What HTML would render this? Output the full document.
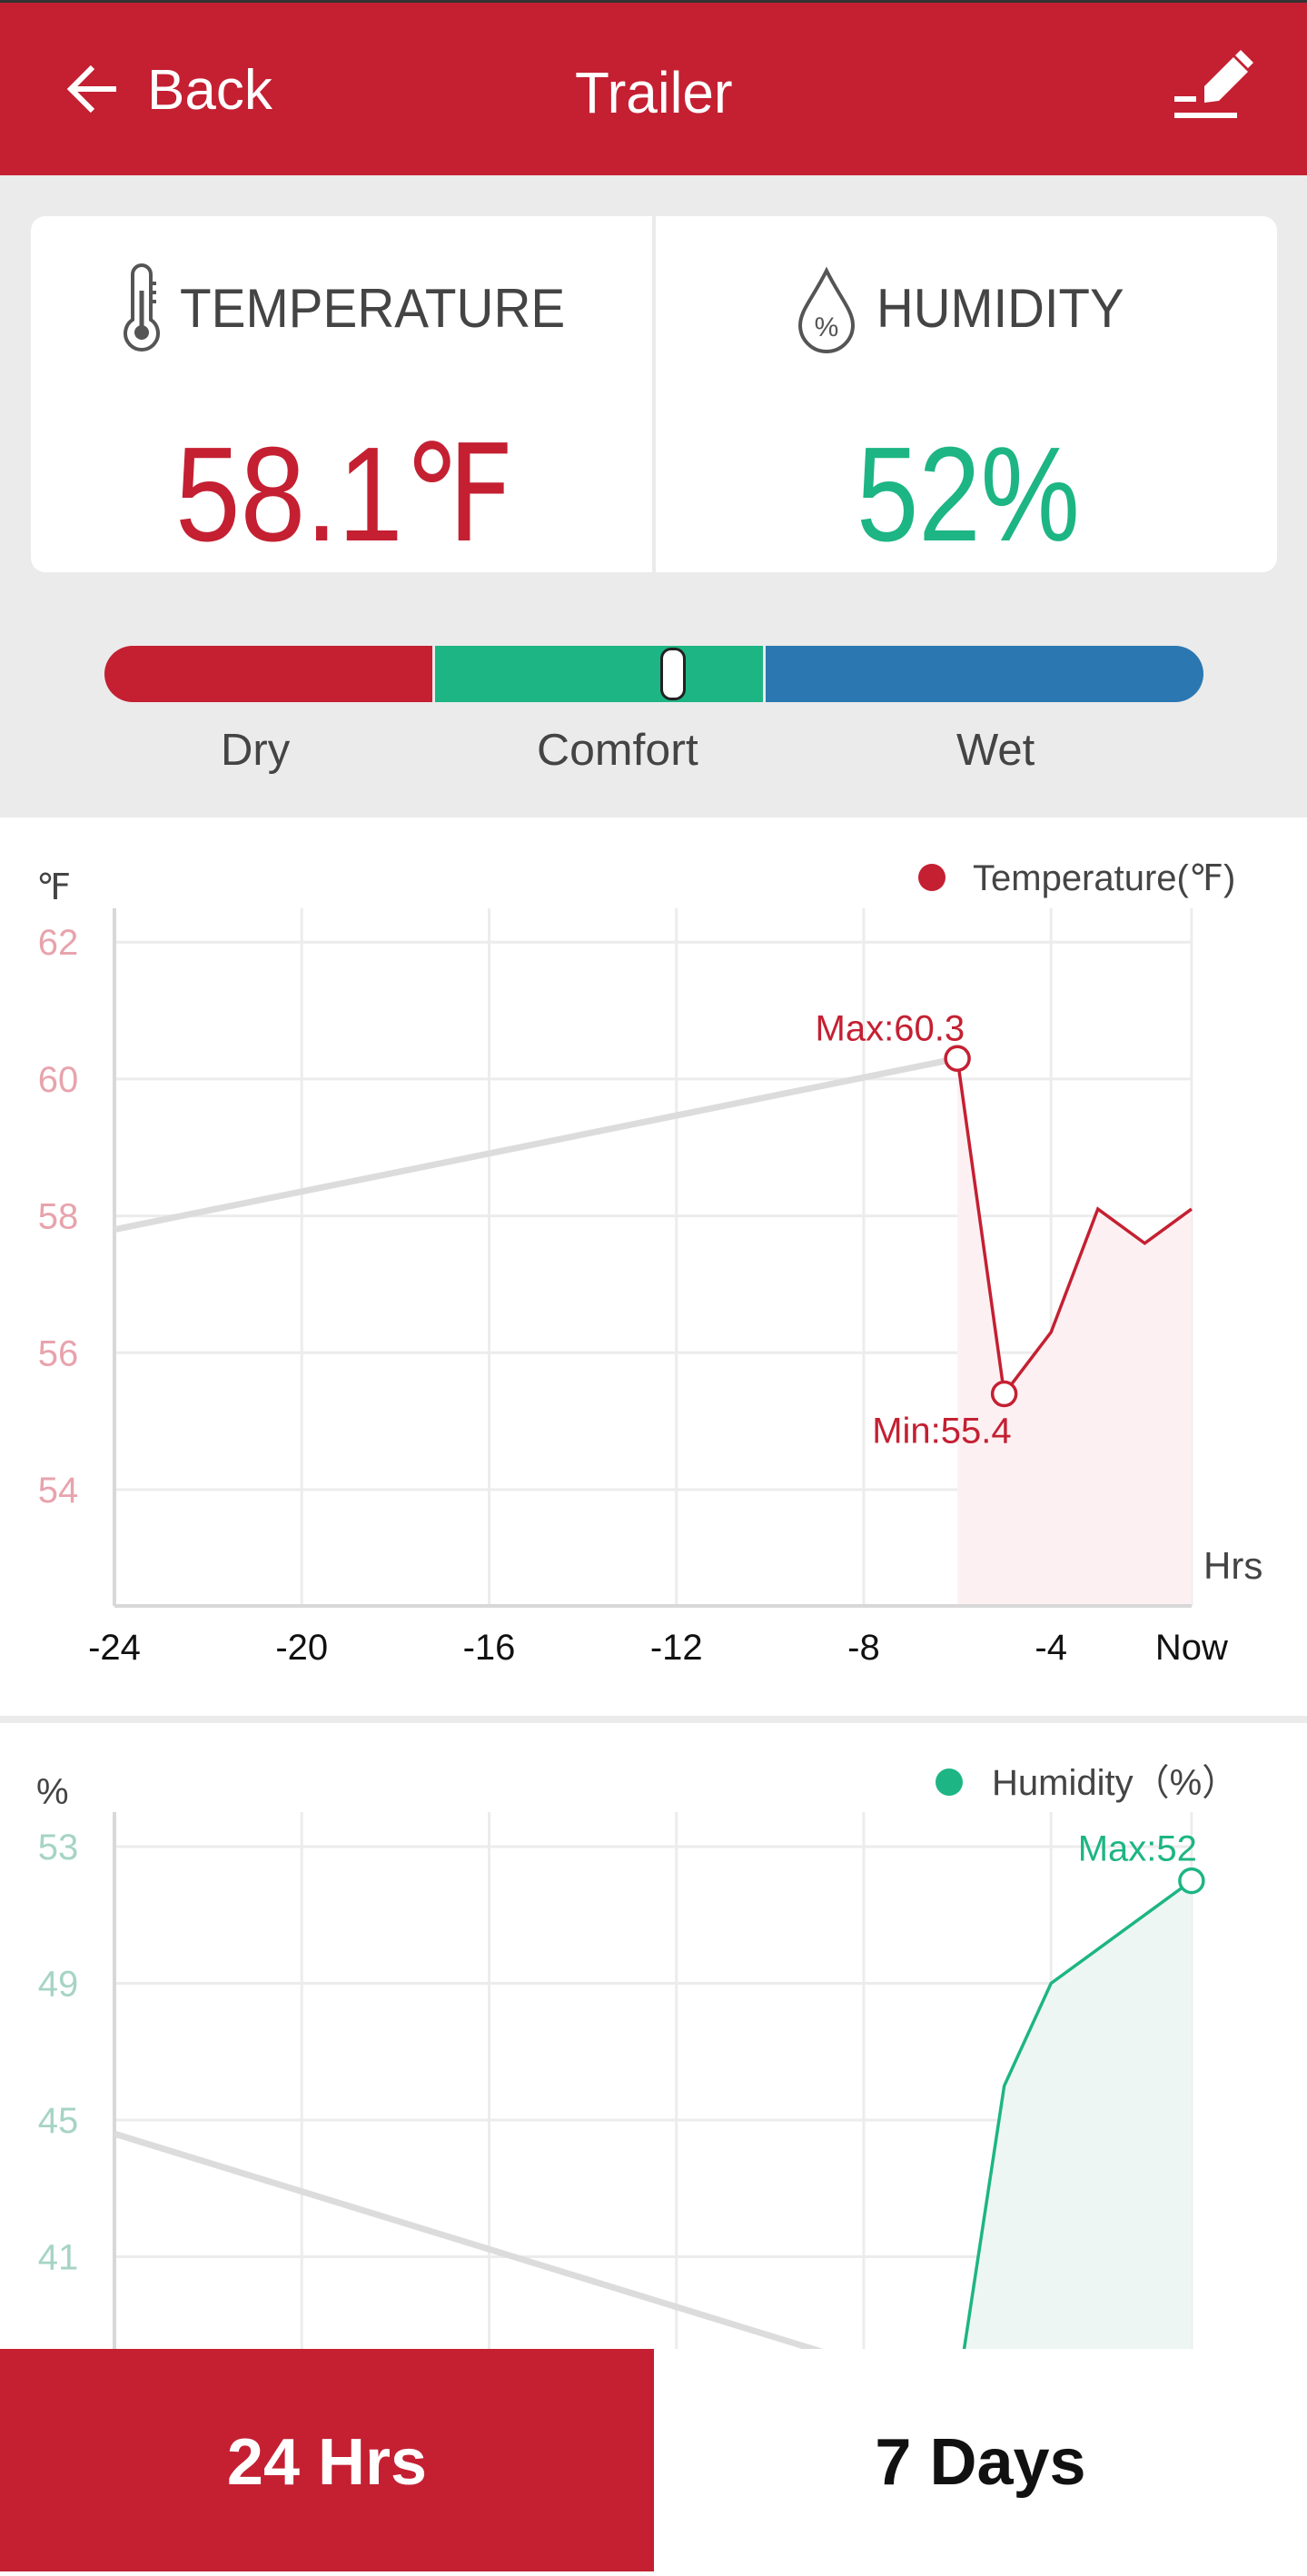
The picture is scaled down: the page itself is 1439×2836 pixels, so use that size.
<!DOCTYPE html>
<html><head><meta charset="utf-8">
<style>
html,body{margin:0;padding:0}
body{width:1439px;height:2831px;position:relative;background:#fff;font-family:"Liberation Sans",sans-serif;overflow:hidden}
.abs{position:absolute}
.sx{display:inline-block;transform-origin:left center;white-space:nowrap}
</style></head>
<body>
<div class="abs" style="left:0;top:0;width:1439px;height:193px;background:#c42032;border-top:3px solid #333;box-sizing:border-box"></div>
<div class="abs" style="left:60px;top:55px;height:90px;color:#fff;font-size:62px;line-height:90px">
<svg width="70" height="70" viewBox="0 0 70 70" style="position:absolute;left:8px;top:8px"><path d="M60 35H10M34 11L10 35l24 24" fill="none" stroke="#fff" stroke-width="6"/></svg>
<span class="sx" style="position:absolute;left:102px;top:0">Back</span></div>
<div class="abs" style="left:633px;top:57px;color:#fff;font-size:64px;line-height:90px"><span class="sx" style="transform:scaleX(0.97)">Trailer</span></div>
<svg class="abs" style="left:1280px;top:55px" width="100" height="90"><g fill="none" stroke="#fff" stroke-width="6"><path d="M13 72H82M13 54H37"/></g><path d="M46 58l0-18 32-32 16 16-32 32z" fill="#fff"/><path d="M80 6l6-6 14 14-6 6z" fill="#fff"/></svg>

<div class="abs" style="left:0;top:193px;width:1439px;height:707px;background:#ebebeb"></div>
<div class="abs" style="left:34px;top:238px;width:1372px;height:392px;background:#fff;border-radius:16px"></div>
<div class="abs" style="left:718px;top:238px;width:4px;height:392px;background:#ebebeb"></div>
<svg class="abs" style="left:130px;top:290px" width="50" height="100"><g fill="none" stroke="#555" stroke-width="4"><path d="M16 62V12a10 10 0 0 1 20 0v50a18 18 0 1 1-20 0z"/><path d="M36 22h6M36 32h6M36 42h6"/></g><circle cx="26" cy="76" r="8" fill="#555"/><path d="M26 76V30" stroke="#555" stroke-width="5"/></svg>
<div class="abs" style="left:198px;top:305px;font-size:60px;color:#444;line-height:70px"><span class="sx" style="transform:scaleX(0.945)">TEMPERATURE</span></div>
<div class="abs" style="left:193px;top:460px;font-size:148px;color:#c42032;line-height:170px"><span class="sx" style="transform:scaleX(0.87)">58.1℉</span></div>
<svg class="abs" style="left:875px;top:290px" width="70" height="100"><path d="M35 8C20 38 6 52 6 68a29 29 0 0 0 58 0C64 52 50 38 35 8z" fill="none" stroke="#555" stroke-width="4"/><text x="35" y="80" font-size="30" text-anchor="middle" fill="#555" font-family="Liberation Sans">%</text></svg>
<div class="abs" style="left:965px;top:305px;font-size:60px;color:#444;line-height:70px"><span class="sx" style="transform:scaleX(0.94)">HUMIDITY</span></div>
<div class="abs" style="left:943px;top:460px;font-size:148px;color:#1db584;line-height:170px"><span class="sx" style="transform:scaleX(0.83)">52%</span></div>

<div class="abs" style="left:115px;top:711px;width:361px;height:62px;background:#c42032;border-radius:31px 0 0 31px"></div>
<div class="abs" style="left:479px;top:711px;width:361px;height:62px;background:#1db584"></div>
<div class="abs" style="left:843px;top:711px;width:482px;height:62px;background:#2b77b2;border-radius:0 31px 31px 0"></div>
<div class="abs" style="left:727px;top:713px;width:22px;height:52px;background:#fff;border:3px solid #222;border-radius:12px"></div>
<div class="abs" style="left:243px;top:798px;font-size:49px;color:#444"><span class="sx">Dry</span></div>
<div class="abs" style="left:591px;top:798px;font-size:49px;color:#444"><span class="sx" style="transform:scaleX(1.02)">Comfort</span></div>
<div class="abs" style="left:1053px;top:798px;font-size:49px;color:#444"><span class="sx">Wet</span></div>

<div class="abs" style="left:0;top:1889px;width:1439px;height:8px;background:#ebebeb"></div>

<svg id="charts" class="abs" style="left:0;top:0" width="1439" height="2831" font-family="Liberation Sans"></svg>

<div class="abs" style="left:0;top:2586px;width:720px;height:245px;background:#c42032;color:#fff;font-size:72px;font-weight:bold;text-align:center;line-height:250px">24 Hrs</div>
<div class="abs" style="left:720px;top:2586px;width:719px;height:245px;background:#fff;color:#111;font-size:72px;font-weight:bold;text-align:center;line-height:250px">7 Days</div>

<script>
const hourTicks=[-24,-20,-16,-12,-8,-4,-1];
const hourLabels=["-24","-20","-16","-12","-8","-4","Now"];
const tempTicks=[54,56,58,60,62];
const tempHours=[-24,-6,-5,-4,-3,-2,-1];
const tempValues=[57.8,60.3,55.4,56.3,58.1,57.6,58.1];
const humTicks=[41,45,49,53];
const humHours=[-24,-6,-5,-4,-1];
const humValues=[44.6,37,46,49,52];

const NS='http://www.w3.org/2000/svg';
const svg=document.getElementById('charts');
function mk(tag,attrs,parent){const e=document.createElementNS(NS,tag);for(const k in attrs)e.setAttribute(k,attrs[k]);(parent||svg).appendChild(e);return e;}
function xh(h){return 126+(h+24)*51.56;}
function yT(v){return 1640-(v-54)*75.35;}
function yH(v){return 2033-(v-53)*37.63;}

function drawChart(cfg){
  const g=mk('g',{});
  
  
  hourTicks.forEach((h,i)=>{
    const l=mk('line',{x1:xh(h),x2:xh(h),y1:cfg.top,y2:cfg.bottom,stroke:'#ececec','stroke-width':3},g);
    
    
  });
  cfg.ticks.forEach(v=>{
    const l=mk('line',{x1:126,x2:xh(-1),y1:cfg.y(v),y2:cfg.y(v),stroke:'#ececec','stroke-width':3},g);
    
    
    const t=mk('text',{x:64,y:cfg.y(v)+14,'font-size':40,fill:cfg.tickColor,'text-anchor':'middle'},g);
    t.textContent=v;
    
    
  });
  const ax=mk('line',{x1:126,x2:126,y1:cfg.top,y2:cfg.bottom,stroke:'#d8d8d8','stroke-width':4},g);
  
  
  const H=cfg.hours,V=cfg.values,y=cfg.y;
  let d='M'+xh(H[1])+' '+cfg.bottom;
  for(let i=1;i<H.length;i++)d+=' L'+xh(H[i])+' '+y(V[i]);
  d+=' L'+xh(H[H.length-1])+' '+cfg.bottom+'Z';
  const f=mk('path',{d:d,fill:cfg.fill},g);
  
  
  const gl=mk('line',{x1:xh(H[0]),y1:y(V[0]),x2:xh(H[1]),y2:y(V[1]),stroke:'#dcdcdc','stroke-width':7},g);
  
  
  let pd='';
  for(let i=1;i<H.length;i++)pd+=(i==1?'M':' L')+xh(H[i])+' '+y(V[i]);
  const p=mk('path',{d:pd,fill:'none',stroke:cfg.color,'stroke-width':3.5},g);
  
  
  cfg.marks.forEach(m=>{
    const i=m.i;
    const c=mk('circle',{cx:xh(H[i]),cy:y(V[i]),r:13,fill:'#fff',stroke:cfg.color,'stroke-width':3.5},g);
    
    
    const t=mk('text',{x:xh(H[i])+m.dx,y:y(V[i])+m.dy,'font-size':40,fill:cfg.color,'text-anchor':'end'},g);
    t.textContent=m.label+V[i];
    
    
  });
}

drawChart({name:'temperature-chart',top:1000,bottom:1768,y:yT,ticks:tempTicks,tickColor:'#e8a3ad',hours:tempHours,values:tempValues,color:'#c42032',fill:'#fdf0f2',
  marks:[{i:1,name:'max',label:'Max:',dx:8,dy:-20},{i:2,name:'min',label:'Min:',dx:8,dy:54}]});
drawChart({name:'humidity-chart',top:1995,bottom:2700,y:yH,ticks:humTicks,tickColor:'#a6d4c3',hours:humHours,values:humValues,color:'#1db584',fill:'#eef6f3',
  marks:[{i:4,name:'max',label:'Max:',dx:6,dy:-22}]});

const xa=mk('line',{x1:126,x2:xh(-1),y1:1768,y2:1768,stroke:'#d8d8d8','stroke-width':4});


hourTicks.forEach((h,i)=>{
  const t=mk('text',{x:xh(h),y:1827,'font-size':40,fill:'#111','text-anchor':'middle'});
  t.textContent=hourLabels[i];
  
  
});
function txt(s,x,y,size,fill,name,anchor){const t=mk('text',{x:x,y:y,'font-size':size,fill:fill,'text-anchor':anchor||'start'});t.textContent=s;return t;}
txt('Hrs',1325,1738,42,'#444','x-axis-title');
txt('℉',40,990,40,'#444','temperature-unit');
txt('%',40,1986,40,'#444','humidity-unit');
const d1=mk('circle',{cx:1026,cy:966,r:15,fill:'#c42032'});


txt('Temperature(℉)',1071,980,40,'#444','temperature-legend-text');
const d2=mk('circle',{cx:1045,cy:1962,r:15,fill:'#1db584'});


txt('Humidity（%）',1092,1976,40,'#444','humidity-legend-text');
</script>
</body></html>
